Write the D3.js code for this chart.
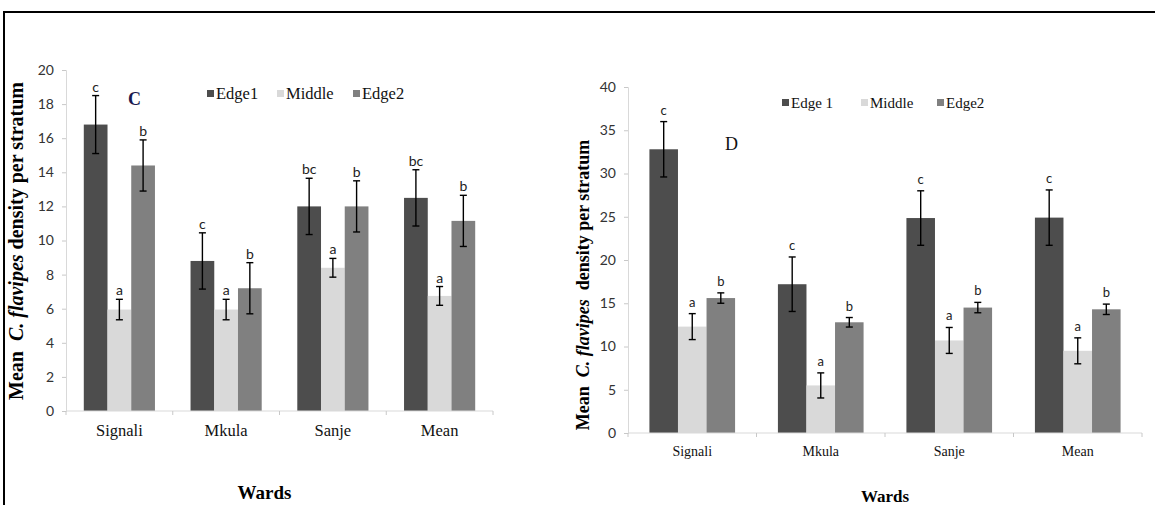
<!DOCTYPE html>
<html lang="en">
<head>
<meta charset="UTF-8">
<title>C. flavipes density per stratum</title>
<script src="https://cdn.jsdelivr.net/npm/d3@7/dist/d3.min.js"></script>
<style>
body { margin: 0; background: #fff; }
svg { display: block; }
</style>
</head>
<body>
<svg id="chart" width="1155" height="505"></svg>
<script>
// wards on the x axis
var wards = ["Signali", "Mkula", "Sanje", "Mean"];

// panel C
var seriesC = ["Edge1", "Middle", "Edge2"];
var edge1C = [16.8, 8.8, 12.0, 12.5];
var middleC = [5.95, 5.95, 8.4, 6.75];
var edge2C = [14.4, 7.2, 12.0, 11.15];
var edge1ErrC = [1.7, 1.65, 1.65, 1.65];
var middleErrC = [0.6, 0.6, 0.55, 0.55];
var edge2ErrC = [1.5, 1.5, 1.5, 1.5];
var lettersC = [["c", "a", "b"], ["c", "a", "b"], ["bc", "a", "b"], ["bc", "a", "b"]];
var ticksC = [0, 2, 4, 6, 8, 10, 12, 14, 16, 18, 20];

// panel D
var seriesD = ["Edge 1", "Middle", "Edge2"];
var edge1D = [32.8, 17.2, 24.85, 24.9];
var middleD = [12.3, 5.5, 10.7, 9.5];
var edge2D = [15.6, 12.8, 14.5, 14.3];
var edge1ErrD = [3.2, 3.15, 3.15, 3.2];
var middleErrD = [1.5, 1.45, 1.5, 1.5];
var edge2ErrD = [0.6, 0.55, 0.6, 0.6];
var lettersD = [["c", "a", "b"], ["c", "a", "b"], ["c", "a", "b"], ["c", "a", "b"]];
var ticksD = [0, 5, 10, 15, 20, 25, 30, 35, 40];

var colors = ["#4d4d4d", "#d9d9d9", "#808080"];
var SERIF = "'Times New Roman', 'Liberation Serif', serif";
var SANS = "Lato, 'Liberation Sans', sans-serif";

var svg = d3.select("#chart");

// outer frame (top and left edges)
svg.append("path")
  .attr("d", "M4,505 V12 H1155")
  .attr("fill", "none")
  .attr("stroke", "#000")
  .attr("stroke-width", 2);

function drawPanel(p) {
  var g = svg.append("g");

  var x = d3.scaleBand().domain(wards).range([p.left, p.right]);
  var inner = d3.scaleBand().domain(d3.range(3))
    .range([0, x.bandwidth()]).paddingOuter(0.75).paddingInner(0);
  var y = d3.scaleLinear().domain([0, p.max]).range([p.bottom, p.top]);

  // y axis
  var yAxis = g.append("g")
    .attr("transform", "translate(" + p.left + ",0)")
    .call(d3.axisLeft(y).tickValues(p.ticks).tickSize(4).tickPadding(8));
  yAxis.attr("font-family", SANS).attr("font-size", 14);
  yAxis.select(".domain").attr("stroke", "#d9d9d9");
  yAxis.selectAll(".tick line").attr("stroke", "#c8c8c8");
  yAxis.selectAll(".tick text").attr("fill", "#333");

  // bars and error bars
  var rows = wards.map(function(w, i) {
    return p.values.map(function(s, j) {
      return { ward: w, k: j, v: s[i], e: p.errs[j][i], letter: p.letters[i][j] };
    });
  });

  var grp = g.selectAll("g.ward")
    .data(rows)
    .enter()
    .append("g")
    .attr("class", "ward")
    .attr("transform", function(d, i) { return "translate(" + x(wards[i]) + ",0)"; });

  grp.selectAll("rect")
    .data(function(d) { return d; })
    .enter()
    .append("rect")
    .attr("x", function(d) { return inner(d.k); })
    .attr("width", inner.bandwidth())
    .attr("y", function(d) { return y(d.v); })
    .attr("height", function(d) { return y(0) - y(d.v); })
    .attr("fill", function(d) { return colors[d.k]; });

  var cap = 3.5;
  var err = grp.selectAll("g.err")
    .data(function(d) { return d; })
    .enter()
    .append("g")
    .attr("class", "err")
    .attr("stroke", "#000")
    .attr("stroke-width", 1.4);
  err.append("line")
    .attr("x1", function(d) { return inner(d.k) + inner.bandwidth() / 2; })
    .attr("x2", function(d) { return inner(d.k) + inner.bandwidth() / 2; })
    .attr("y1", function(d) { return y(d.v + d.e); })
    .attr("y2", function(d) { return y(d.v - d.e); });
  err.append("line")
    .attr("x1", function(d) { return inner(d.k) + inner.bandwidth() / 2 - cap; })
    .attr("x2", function(d) { return inner(d.k) + inner.bandwidth() / 2 + cap; })
    .attr("y1", function(d) { return y(d.v + d.e); })
    .attr("y2", function(d) { return y(d.v + d.e); });
  err.append("line")
    .attr("x1", function(d) { return inner(d.k) + inner.bandwidth() / 2 - cap; })
    .attr("x2", function(d) { return inner(d.k) + inner.bandwidth() / 2 + cap; })
    .attr("y1", function(d) { return y(d.v - d.e); })
    .attr("y2", function(d) { return y(d.v - d.e); });

  // significance letters
  grp.selectAll("text.letter")
    .data(function(d) { return d; })
    .enter()
    .append("text")
    .attr("class", "letter")
    .attr("font-family", SANS)
    .attr("x", function(d) { return inner(d.k) + inner.bandwidth() / 2; })
    .attr("y", function(d) { return y(d.v + d.e) - p.letterGap; })
    .attr("text-anchor", "middle")
    .attr("font-size", p.letterSize)
    .attr("fill", "#222")
    .text(function(d) { return d.letter; });

  // x axis
  g.append("line")
    .attr("x1", p.left).attr("x2", p.right)
    .attr("y1", y(0)).attr("y2", y(0))
    .attr("stroke", "#d9d9d9");
  g.selectAll("line.xtick")
    .data(d3.range(wards.length + 1))
    .enter()
    .append("line")
    .attr("class", "xtick")
    .attr("x1", function(i) { return p.left + i * x.step(); })
    .attr("x2", function(i) { return p.left + i * x.step(); })
    .attr("y1", y(0)).attr("y2", y(0) + 4)
    .attr("stroke", "#c8c8c8");
  g.selectAll("text.cat")
    .data(wards)
    .enter()
    .append("text")
    .attr("class", "cat")
    .attr("font-family", SERIF)
    .attr("x", function(d) { return x(d) + x.bandwidth() / 2; })
    .attr("y", p.catY)
    .attr("text-anchor", "middle")
    .attr("font-size", p.catSize)
    .attr("fill", "#111")
    .text(function(d) { return d; });

  // axis titles
  g.append("text")
    .attr("font-family", SERIF)
    .attr("x", (p.left + p.right) / 2 + p.wardsShift)
    .attr("y", p.wardsY)
    .attr("text-anchor", "middle")
    .attr("font-size", p.wardsSize)
    .attr("font-weight", "bold")
    .text("Wards");

  var yt = g.append("text")
    .attr("font-family", SERIF)
    .attr("transform", "translate(" + p.titleX + "," + p.titleY + ") rotate(-90)")
    .attr("text-anchor", "middle")
    .attr("font-size", p.titleSize)
    .attr("font-weight", "bold")
    .style("white-space", "pre");
  yt.append("tspan").text("Mean  ");
  yt.append("tspan").attr("font-style", "italic").text("C. flavipes");
  yt.append("tspan").text(p.titleGap + "density per stratum");

  // legend
  var leg = g.selectAll("g.leg")
    .data(p.series)
    .enter()
    .append("g")
    .attr("class", "leg")
    .attr("transform", function(d, i) { return "translate(" + p.legX[i] + "," + p.legY + ")"; });
  leg.append("rect")
    .attr("x", 0).attr("y", -4)
    .attr("width", 7).attr("height", 7)
    .attr("fill", function(d, i) { return colors[i]; });
  leg.append("text")
    .attr("font-family", SERIF)
    .attr("x", 9)
    .attr("y", 5)
    .attr("font-size", p.legSize)
    .attr("fill", "#111")
    .style("white-space", "pre")
    .text(function(d) { return d; });

  // panel letter
  g.append("text")
    .attr("font-family", SERIF)
    .attr("x", p.markX)
    .attr("y", p.markY)
    .attr("font-size", 18)
    .attr("font-weight", p.markWeight)
    .attr("fill", p.markColor)
    .text(p.mark);
}

drawPanel({
  left: 66, right: 493, top: 70, bottom: 411, max: 20, ticks: ticksC,
  values: [edge1C, middleC, edge2C],
  errs: [edge1ErrC, middleErrC, edge2ErrC],
  letters: lettersC, letterSize: 14, letterGap: 4,
  series: seriesC, legX: [207, 277, 353], legY: 94, legSize: 16.5,
  catY: 436, catSize: 16.5,
  wardsY: 499, wardsSize: 19, wardsShift: -15,
  titleX: 23, titleY: 241, titleSize: 20, titleGap: " ",
  mark: "C", markX: 128, markY: 105, markWeight: "bold", markColor: "#1a1a50"
});

drawPanel({
  left: 628, right: 1142, top: 87, bottom: 433, max: 40, ticks: ticksD,
  values: [edge1D, middleD, edge2D],
  errs: [edge1ErrD, middleErrD, edge2ErrD],
  letters: lettersD, letterSize: 13, letterGap: 7,
  series: seriesD, legX: [782, 861, 937], legY: 103, legSize: 15,
  catY: 456, catSize: 14,
  wardsY: 502, wardsSize: 17, wardsShift: 0,
  titleX: 589, titleY: 285, titleSize: 18, titleGap: "  ",
  mark: "D", markX: 725, markY: 150, markWeight: "normal", markColor: "#111"
});
</script>
</body>
</html>
